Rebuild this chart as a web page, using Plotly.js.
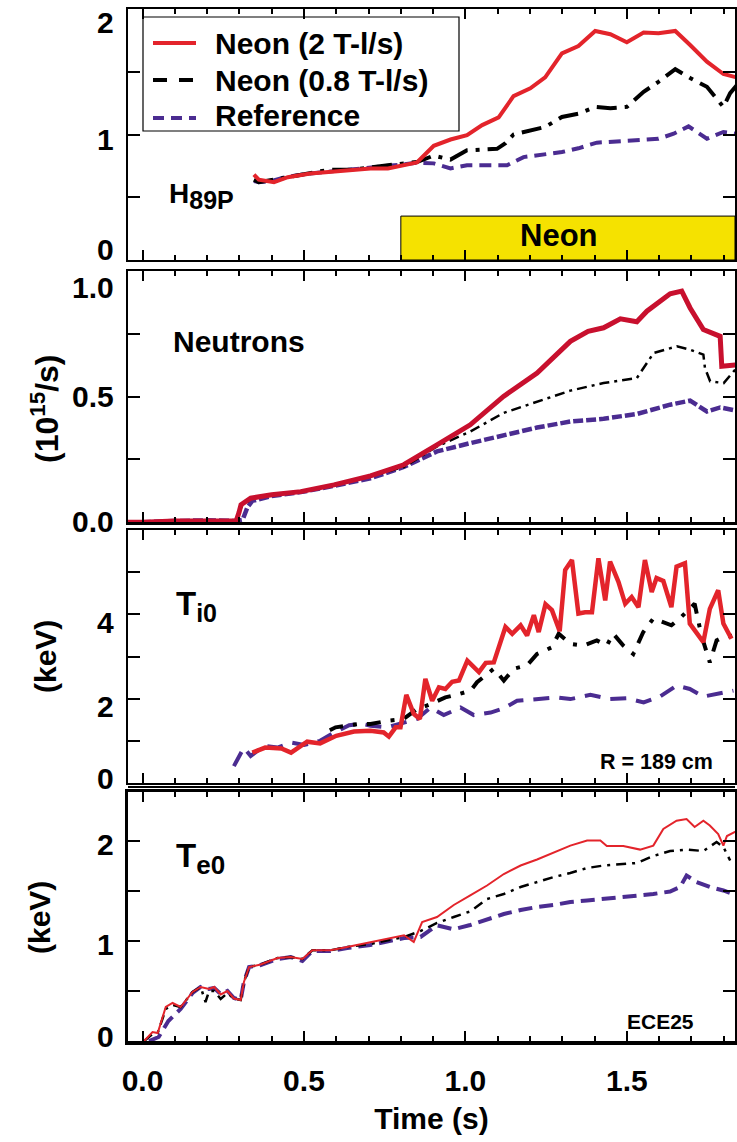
<!DOCTYPE html>
<html>
<head>
<meta charset="utf-8">
<script src="https://cdn.plot.ly/plotly-3.0.1.min.js"></script>
<style>
html, body { margin: 0; padding: 0; background: #ffffff; }
#chart { width: 737px; height: 1142px; }
</style>
</head>
<body>
<div id="chart"></div>
<script>
// ---------------- DATA ----------------
const timeRange = [-0.045, 1.835];
const neonWindow = [0.8, 1.835];
const neonBarHeight = 0.35;

const seriesNames = ['Neon (2 T-l/s)', 'Neon (0.8 T-l/s)', 'Reference'];

// Panel 1: H89P
const h89TimeRed = [0.345, 0.36, 0.407, 0.45, 0.52, 0.60, 0.706, 0.76, 0.85, 0.902, 0.954, 1.005, 1.052, 1.103, 1.149, 1.201, 1.247, 1.299, 1.350, 1.402, 1.449, 1.50, 1.552, 1.598, 1.650, 1.696, 1.748, 1.799, 1.84];
const h89Red     = [0.68, 0.64, 0.62, 0.66, 0.69, 0.71, 0.73, 0.73, 0.777, 0.91, 0.96, 0.995, 1.075, 1.136, 1.306, 1.368, 1.455, 1.647, 1.705, 1.825, 1.799, 1.735, 1.812, 1.807, 1.825, 1.713, 1.58, 1.482, 1.455];
const h89TimeBlack = [0.345, 0.36, 0.407, 0.45, 0.52, 0.58, 0.65, 0.707, 0.81, 0.85, 0.902, 0.954, 1.005, 1.098, 1.124, 1.149, 1.247, 1.299, 1.35, 1.402, 1.449, 1.50, 1.552, 1.598, 1.65, 1.696, 1.748, 1.799, 1.82, 1.84];
const h89Black     = [0.64, 0.62, 0.64, 0.66, 0.69, 0.72, 0.72, 0.74, 0.77, 0.78, 0.832, 0.80, 0.874, 0.886, 0.93, 1.0, 1.06, 1.14, 1.166, 1.22, 1.21, 1.22, 1.34, 1.42, 1.52, 1.45, 1.38, 1.22, 1.33, 1.39];
const h89TimeRef = [0.345, 0.36, 0.40, 0.443, 0.52, 0.60, 0.706, 0.80, 0.85, 0.902, 0.954, 1.005, 1.129, 1.18, 1.299, 1.35, 1.407, 1.50, 1.598, 1.645, 1.691, 1.748, 1.799, 1.84];
const h89Ref     = [0.63, 0.62, 0.63, 0.66, 0.69, 0.71, 0.73, 0.76, 0.775, 0.77, 0.73, 0.755, 0.755, 0.82, 0.86, 0.89, 0.935, 0.953, 0.966, 1.006, 1.065, 0.966, 1.02, 1.006];

// Panel 2: Neutrons (1e15/s)
const neuTimeRed = [-0.045, 0.0, 0.1, 0.2, 0.29, 0.299, 0.305, 0.335, 0.40, 0.49, 0.593, 0.706, 0.809, 0.912, 1.015, 1.118, 1.222, 1.325, 1.38, 1.428, 1.48, 1.531, 1.562, 1.634, 1.670, 1.696, 1.737, 1.789, 1.794, 1.84];
const neuRed     = [0.0, 0.0, 0.005, 0.003, 0.005, 0.04, 0.07, 0.096, 0.11, 0.122, 0.149, 0.185, 0.229, 0.308, 0.388, 0.501, 0.594, 0.72, 0.76, 0.774, 0.81, 0.798, 0.84, 0.909, 0.92, 0.853, 0.767, 0.74, 0.621, 0.627];
const neuTimeBlack = [-0.045, 0.0, 0.1, 0.2, 0.29, 0.299, 0.31, 0.34, 0.40, 0.49, 0.593, 0.706, 0.809, 0.912, 1.015, 1.118, 1.222, 1.325, 1.428, 1.531, 1.583, 1.655, 1.696, 1.737, 1.742, 1.758, 1.80, 1.84];
const neuBlack     = [0.0, 0.0, 0.003, 0.005, 0.005, 0.04, 0.07, 0.093, 0.11, 0.122, 0.149, 0.183, 0.22, 0.302, 0.361, 0.435, 0.481, 0.524, 0.554, 0.574, 0.674, 0.70, 0.687, 0.667, 0.614, 0.561, 0.554, 0.614];
const neuTimeRef = [-0.045, 0.0, 0.1, 0.2, 0.29, 0.31, 0.325, 0.34, 0.40, 0.49, 0.593, 0.706, 0.809, 0.912, 1.015, 1.118, 1.222, 1.325, 1.428, 1.531, 1.634, 1.696, 1.748, 1.789, 1.84];
const neuRef     = [0.0, 0.0, 0.005, 0.008, 0.005, 0.01, 0.06, 0.085, 0.105, 0.12, 0.145, 0.175, 0.22, 0.282, 0.315, 0.348, 0.377, 0.401, 0.412, 0.431, 0.468, 0.484, 0.441, 0.457, 0.444];

// Panel 3: Ti0 (keV)
const tiTimeRed = [0.34, 0.38, 0.43, 0.46, 0.51, 0.55, 0.60, 0.655, 0.706, 0.747, 0.763, 0.784, 0.799, 0.817, 0.840, 0.859, 0.876, 0.897, 0.918, 0.938, 0.959, 0.98, 1.006, 1.042, 1.063, 1.088, 1.124, 1.145, 1.171, 1.191, 1.212, 1.227, 1.248, 1.268, 1.292, 1.309, 1.330, 1.350, 1.371, 1.392, 1.412, 1.433, 1.448, 1.474, 1.495, 1.515, 1.536, 1.556, 1.577, 1.592, 1.613, 1.638, 1.654, 1.680, 1.695, 1.716, 1.737, 1.757, 1.783, 1.799, 1.824];
const tiRed     = [0.72, 0.84, 0.82, 0.72, 0.98, 0.94, 1.12, 1.22, 1.24, 1.20, 1.10, 1.32, 1.32, 2.09, 1.64, 1.52, 2.47, 1.95, 2.27, 2.23, 2.40, 2.43, 2.90, 2.63, 2.85, 2.86, 3.70, 3.54, 3.74, 3.50, 3.98, 3.58, 4.24, 4.10, 3.60, 5.05, 5.29, 4.02, 4.05, 4.05, 5.33, 4.33, 5.25, 4.77, 4.25, 4.41, 4.17, 5.29, 4.53, 4.86, 4.79, 4.17, 5.13, 5.21, 3.78, 3.58, 3.34, 4.13, 4.57, 3.78, 3.42];
const tiTimeBlack = [0.58, 0.598, 0.634, 0.67, 0.706, 0.763, 0.809, 0.850, 0.892, 0.938, 0.98, 1.016, 1.036, 1.063, 1.088, 1.119, 1.15, 1.191, 1.222, 1.268, 1.289, 1.325, 1.366, 1.407, 1.438, 1.458, 1.489, 1.520, 1.551, 1.582, 1.613, 1.638, 1.669, 1.71, 1.731, 1.757, 1.778, 1.799, 1.83];
const tiBlack     = [1.25, 1.32, 1.36, 1.40, 1.40, 1.48, 1.52, 1.75, 1.87, 2.03, 2.11, 2.19, 2.39, 2.55, 2.71, 2.43, 2.71, 2.79, 3.06, 3.22, 3.54, 3.30, 3.26, 3.38, 3.26, 3.54, 3.26, 3.06, 3.58, 3.90, 3.82, 3.74, 3.94, 4.25, 3.5, 2.86, 3.38, 3.46, 3.5];
const tiTimeRef = [0.283, 0.314, 0.335, 0.376, 0.418, 0.459, 0.50, 0.55, 0.59, 0.64, 0.68, 0.706, 0.758, 0.809, 0.850, 0.892, 0.933, 0.985, 1.026, 1.078, 1.119, 1.16, 1.222, 1.284, 1.325, 1.387, 1.448, 1.50, 1.552, 1.603, 1.654, 1.695, 1.737, 1.778, 1.83];
const tiRef     = [0.40, 0.84, 0.64, 0.88, 0.84, 0.96, 0.90, 1.0, 1.18, 1.37, 1.40, 1.36, 1.32, 1.44, 1.52, 1.79, 1.61, 1.79, 1.61, 1.67, 1.77, 1.95, 1.99, 2.03, 1.99, 2.09, 1.99, 2.01, 1.91, 2.05, 2.31, 2.23, 2.05, 2.11, 2.19];

// Panel 4: Te0 (keV)
const teTimeRed = [0.005, 0.031, 0.047, 0.072, 0.093, 0.118, 0.155, 0.18, 0.206, 0.222, 0.242, 0.263, 0.283, 0.304, 0.314, 0.33, 0.366, 0.418, 0.459, 0.495, 0.526, 0.582, 0.634, 0.706, 0.81, 0.840, 0.866, 0.912, 0.964, 1.015, 1.067, 1.119, 1.171, 1.222, 1.274, 1.325, 1.377, 1.418, 1.438, 1.489, 1.541, 1.582, 1.613, 1.654, 1.685, 1.71, 1.737, 1.757, 1.783, 1.799, 1.81, 1.84];
const teRed     = [0.0, 0.09, 0.08, 0.34, 0.38, 0.34, 0.49, 0.54, 0.52, 0.54, 0.465, 0.50, 0.425, 0.41, 0.59, 0.74, 0.765, 0.83, 0.84, 0.82, 0.907, 0.907, 0.94, 0.99, 1.057, 0.99, 1.19, 1.24, 1.36, 1.456, 1.555, 1.67, 1.755, 1.815, 1.887, 1.954, 2.004, 2.004, 1.95, 1.95, 1.914, 1.954, 2.12, 2.203, 2.22, 2.14, 2.203, 2.155, 2.07, 1.954, 2.05, 2.10];
const teTimeBlack = [0.005, 0.031, 0.047, 0.072, 0.093, 0.118, 0.155, 0.18, 0.195, 0.206, 0.222, 0.242, 0.263, 0.283, 0.304, 0.314, 0.33, 0.366, 0.418, 0.459, 0.495, 0.526, 0.582, 0.634, 0.706, 0.81, 0.861, 0.912, 0.964, 1.015, 1.067, 1.119, 1.171, 1.222, 1.274, 1.325, 1.377, 1.428, 1.48, 1.531, 1.582, 1.634, 1.685, 1.737, 1.778, 1.799, 1.82];
const teBlack     = [0.0, 0.07, 0.08, 0.32, 0.36, 0.34, 0.49, 0.54, 0.39, 0.50, 0.50, 0.42, 0.48, 0.425, 0.41, 0.59, 0.74, 0.765, 0.83, 0.84, 0.82, 0.907, 0.907, 0.94, 0.97, 1.04, 1.10, 1.18, 1.24, 1.296, 1.42, 1.47, 1.54, 1.59, 1.64, 1.68, 1.73, 1.755, 1.765, 1.78, 1.85, 1.90, 1.914, 1.90, 1.99, 1.94, 1.805];
const teTimeRef = [0.02, 0.05, 0.08, 0.10, 0.118, 0.155, 0.18, 0.206, 0.222, 0.242, 0.263, 0.283, 0.304, 0.314, 0.33, 0.366, 0.418, 0.459, 0.495, 0.526, 0.582, 0.634, 0.706, 0.81, 0.861, 0.912, 0.964, 1.015, 1.067, 1.119, 1.171, 1.222, 1.274, 1.325, 1.377, 1.428, 1.48, 1.531, 1.582, 1.634, 1.665, 1.685, 1.716, 1.757, 1.799, 1.84];
const teRef     = [0.0, 0.04, 0.2, 0.26, 0.32, 0.48, 0.54, 0.52, 0.53, 0.47, 0.50, 0.43, 0.41, 0.59, 0.74, 0.76, 0.82, 0.84, 0.80, 0.90, 0.90, 0.93, 0.96, 1.03, 1.04, 1.157, 1.117, 1.16, 1.22, 1.27, 1.31, 1.34, 1.36, 1.39, 1.405, 1.42, 1.44, 1.45, 1.47, 1.495, 1.54, 1.655, 1.59, 1.54, 1.505, 1.455];

// Axis ticks / labels
const h89Ticks = [0, 1, 2];
const h89TickText = ['0', '1', '2'];
const neuTicks = [0, 0.5, 1.0];
const neuTickText = ['0.0', '0.5', '1.0'];
const tiTicks = [0, 2, 4];
const tiTickText = ['0', '2', '4'];
const teTicks = [0, 1, 2];
const teTickText = ['0', '1', '2'];

// ---------------- STYLE ----------------
const FONT = '"Liberation Sans", Arial, Helvetica, sans-serif';
const RED = '#E3242B';
const DARKRED = '#C8102E';
const BLACK = '#000000';
const PURPLE = '#4B2C91';
const YELLOW = '#F5E200';

function tr(x, y, xa, ya, color, width, dash, name) {
  return { type: 'scatter', mode: 'lines', x: x, y: y, xaxis: xa, yaxis: ya, name: name,
    line: { color: color, width: width, dash: dash, shape: 'linear' }, showlegend: false, hoverinfo: 'skip' };
}

const traces = [
  tr(h89TimeRef, h89Ref, 'x', 'y', PURPLE, 4, '12px,7px', seriesNames[2]),
  tr(h89TimeBlack, h89Black, 'x', 'y', BLACK, 4, '20px,8px,4px,8px', seriesNames[1]),
  tr(h89TimeRed, h89Red, 'x', 'y', RED, 4, 'solid', seriesNames[0]),

  tr(neuTimeRef, neuRef, 'x2', 'y2', PURPLE, 4.5, '10px,3px', seriesNames[2]),
  tr(neuTimeBlack, neuBlack, 'x2', 'y2', BLACK, 2.5, '10px,5px,3px,5px', seriesNames[1]),
  tr(neuTimeRed, neuRed, 'x2', 'y2', DARKRED, 5, 'solid', seriesNames[0]),

  tr(tiTimeRef, tiRef, 'x3', 'y3', PURPLE, 4, '16px,10px', seriesNames[2]),
  tr(tiTimeBlack, tiBlack, 'x3', 'y3', BLACK, 4, '14px,10px,4px,10px', seriesNames[1]),
  tr(tiTimeRed, tiRed, 'x3', 'y3', RED, 4.5, 'solid', seriesNames[0]),

  tr(teTimeRef, teRef, 'x4', 'y4', PURPLE, 4, '14px,7px', seriesNames[2]),
  tr(teTimeBlack, teBlack, 'x4', 'y4', BLACK, 2.5, '10px,6px,3px,6px', seriesNames[1]),
  tr(teTimeRed, teRed, 'x4', 'y4', RED, 2, 'solid', seriesNames[0])
];

function xAxis(anchor, showLabels, lw) {
  const ax = {
    domain: [0, 1], anchor: anchor, range: timeRange, autorange: false,
    showgrid: false, zeroline: false, showline: true, linecolor: BLACK, linewidth: lw,
    mirror: 'ticks', ticks: 'inside', ticklen: 10, tickwidth: 2, tickcolor: BLACK,
    tick0: 0, dtick: 0.5,
    minor: { dtick: 0.1, tick0: 0, ticklen: 5, tickwidth: 2, tickcolor: BLACK, ticks: 'inside', showgrid: false },
    showticklabels: showLabels, tickformat: '.1f',
    tickfont: { family: FONT, size: 30, color: BLACK, weight: 'bold' },
    ticklabelstandoff: 10
  };
  if (showLabels) {
    ax.title = { text: 'Time (s)', font: { family: FONT, size: 30, color: BLACK, weight: 'bold' }, standoff: 13 };
  }
  return ax;
}
function yAxis(anchor, domain, range, dtick, lw) {
  return {
    domain: domain, anchor: anchor, range: range, autorange: false,
    showgrid: false, zeroline: false, showline: true, linecolor: BLACK, linewidth: lw,
    mirror: 'ticks', ticks: 'inside', ticklen: 12, tickwidth: 2, tickcolor: BLACK,
    tick0: 0, dtick: dtick,
    minor: { dtick: dtick / 2, tick0: 0, ticklen: 12, tickwidth: 2, tickcolor: BLACK, ticks: 'inside', showgrid: false },
    showticklabels: false
  };
}

// pixel helpers for annotation/legend placement (plot area: x 128..735, y 9..1041)
const PL = 128, PW = 607, PB = 1041, PH = 1032;
const px = (p) => (p - PL) / PW;
const py = (p) => (PB - p) / PH;

const annotations = [];
// shifts: [bottom label, middle labels, top label] in pixels (positive = up)
function tickLabels(vals, texts, yref, range, shifts) {
  vals.forEach((v, i) => {
    let shift = shifts[1];
    if (v === range[1]) shift = shifts[2];
    else if (v === range[0]) shift = shifts[0];
    annotations.push({ xref: 'paper', yref: yref, x: 0, y: v, xanchor: 'right', yanchor: 'middle',
      xshift: -12, yshift: shift, text: texts[i], showarrow: false,
      font: { family: FONT, size: 30, color: BLACK, weight: 'bold' } });
  });
}
tickLabels(h89Ticks, h89TickText, 'y', [0, 2], [11, -5, -13]);
tickLabels(neuTicks, neuTickText, 'y2', [0, 1.0], [1, 0, -16]);
tickLabels(tiTicks, tiTickText, 'y3', [0, 6], [5, -8, -8]);
tickLabels(teTicks, teTickText, 'y4', [0, 2.49], [5, -3, -7]);

function label(text, x, y, size, xanchor, angle) {
  annotations.push({ xref: 'paper', yref: 'paper', x: x, y: y, xanchor: xanchor || 'left', yanchor: 'middle',
    text: text, showarrow: false, textangle: angle || 0,
    font: { family: FONT, size: size, color: BLACK, weight: 'bold' } });
}
label('H<sub><span style="font-size:25px">89P</span></sub>', px(167), py(196), 28, 'left');
label('Neutrons', px(239), py(341), 30, 'center');
label('T<sub><span style="font-size:25px">i0</span></sub>', px(174), py(606), 33, 'left');
label('T<sub><span style="font-size:26px">e0</span></sub>', px(174), py(858), 33, 'left');
label('R = 189 cm', px(656), py(762), 21.5, 'center');
label('ECE25', px(660), py(1021), 21, 'center');
label('(10<sup>15</sup>/s)', px(45), py(409), 32, 'center', -90);
label('(keV)', px(45), py(657), 30, 'center', -90);
label('(keV)', px(39), py(918), 30, 'center', -90);
label('Neon', px(559), py(236), 31, 'center');
// legend text
label(seriesNames[0], px(213), py(44), 30, 'left');
label(seriesNames[1], px(213), py(80), 30, 'left');
label(seriesNames[2], px(213), py(116), 30, 'left');

const shapes = [
  { type: 'rect', xref: 'x', yref: 'y', x0: neonWindow[0], x1: neonWindow[1], y0: 0, y1: neonBarHeight,
    fillcolor: YELLOW, line: { color: BLACK, width: 1 }, layer: 'below' },
  // separator line between panels 3 and 4
  { type: 'line', xref: 'paper', yref: 'paper', x0: 0, x1: 1, y0: py(787), y1: py(787), line: { color: BLACK, width: 2 } },
  // legend box
  { type: 'rect', xref: 'paper', yref: 'paper', x0: px(143), x1: px(459), y0: py(131), y1: py(17),
    fillcolor: 'rgba(255,255,255,0)', line: { color: BLACK, width: 1.2 } },
  { type: 'line', xref: 'paper', yref: 'paper', x0: px(153), x1: px(196), y0: py(43), y1: py(43), line: { color: RED, width: 4 } },
  { type: 'line', xref: 'paper', yref: 'paper', x0: px(153), x1: px(196), y0: py(80), y1: py(80), line: { color: BLACK, width: 4, dash: '14px,12px' } },
  { type: 'line', xref: 'paper', yref: 'paper', x0: px(153), x1: px(196), y0: py(118), y1: py(118), line: { color: PURPLE, width: 4, dash: '11px,7px' } }
];

const layout = {
  width: 737, height: 1142,
  margin: { l: 128, r: 2, t: 9, b: 101 },
  paper_bgcolor: '#ffffff', plot_bgcolor: '#ffffff',
  showlegend: false,
  font: { family: FONT, color: BLACK },
  xaxis: xAxis('y', false, 2.2),
  xaxis2: xAxis('y2', false, 2.2),
  xaxis3: xAxis('y3', false, 2.2),
  xaxis4: xAxis('y4', true, 3.5),
  yaxis: yAxis('x', [py(260), py(9)], [0, 2], 1, 2.2),
  yaxis2: yAxis('x2', [py(522.3), py(271)], [0, 1.0], 0.5, 2.2),
  yaxis3: yAxis('x3', [py(783), py(530)], [0, 6], 2, 2.2),
  yaxis4: yAxis('x4', [py(1041), py(792)], [0, 2.49], 1, 3.5),
  annotations: annotations,
  shapes: shapes
};

Plotly.newPlot('chart', traces, layout, { staticPlot: true, displayModeBar: false });
</script>
</body>
</html>
